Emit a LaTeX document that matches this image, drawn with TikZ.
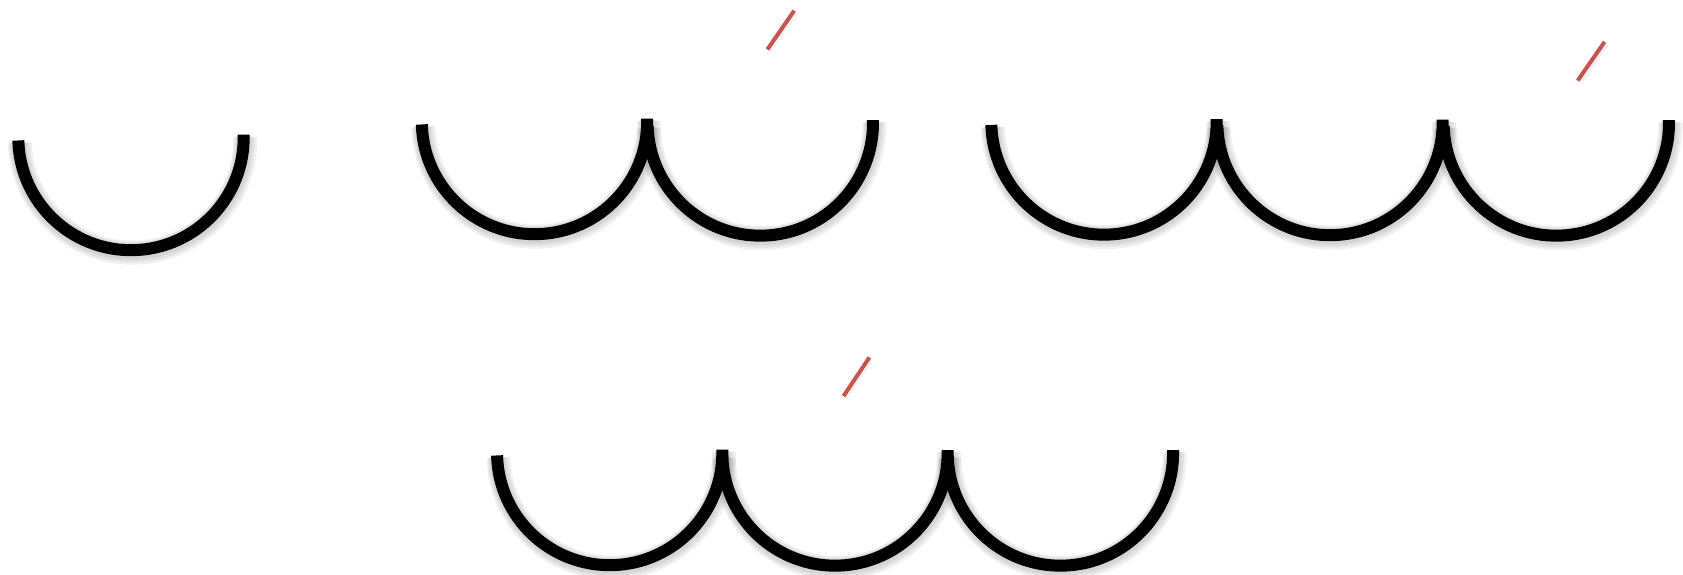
\documentclass[tikz,border=0pt]{standalone}
\usetikzlibrary{calc}
\definecolor{slashred}{RGB}{196,86,78}
\tikzset{
  ringline/.style={line width=12pt, black},
  shadowline/.style={line width=#1, black, opacity=0.06},
  slashline/.style={line width=4pt, slashred},
  slashshadow/.style={line width=7pt, black, opacity=0.05}
}
\newcommand{\halfring}[2]{%
  \draw[shadowline=24pt] ($(#1,#2)+(1.5,2.5)$) ++(-1.5:112.7) arc[start angle=-1.5, end angle=178.5, radius=112.7];
  \draw[shadowline=20pt] ($(#1,#2)+(1,2)$) ++(-1.5:112.7) arc[start angle=-1.5, end angle=178.5, radius=112.7];
  \draw[shadowline=16pt] ($(#1,#2)+(0.5,1.5)$) ++(-1.5:112.7) arc[start angle=-1.5, end angle=178.5, radius=112.7];
  \draw[ringline] (#1,#2) ++(-1.5:112.7) arc[start angle=-1.5, end angle=178.5, radius=112.7];
}
\begin{document}
\begin{tikzpicture}[x=1pt,y=-1pt]
\useasboundingbox (0,0) rectangle (1683,575);
% group 1
\halfring{131}{137.5}
% group 2
\halfring{534.5}{121.5}
\halfring{760.3}{123}
% group 3
\halfring{1104}{122}
\halfring{1330}{122.5}
\halfring{1556.3}{123}
% group 4
\halfring{609.7}{452.5}
\halfring{835}{453}
\halfring{1060.4}{453}
% red slashes
\coordinate (s1a) at (767.4,49.4);
\coordinate (s1b) at (794.2,10.7);
\coordinate (s2a) at (1577.7,80.5);
\coordinate (s2b) at (1604.6,41.9);
\coordinate (s3a) at (843.6,396);
\coordinate (s3b) at (869.4,357.4);
\foreach \a/\b in {s1a/s1b, s2a/s2b, s3a/s3b}{
  \draw[slashshadow] ($(\a)+(1,1.5)$) -- ($(\b)+(1,1.5)$);
  \draw[slashline] (\a) -- (\b);
}
\end{tikzpicture}
\end{document}
